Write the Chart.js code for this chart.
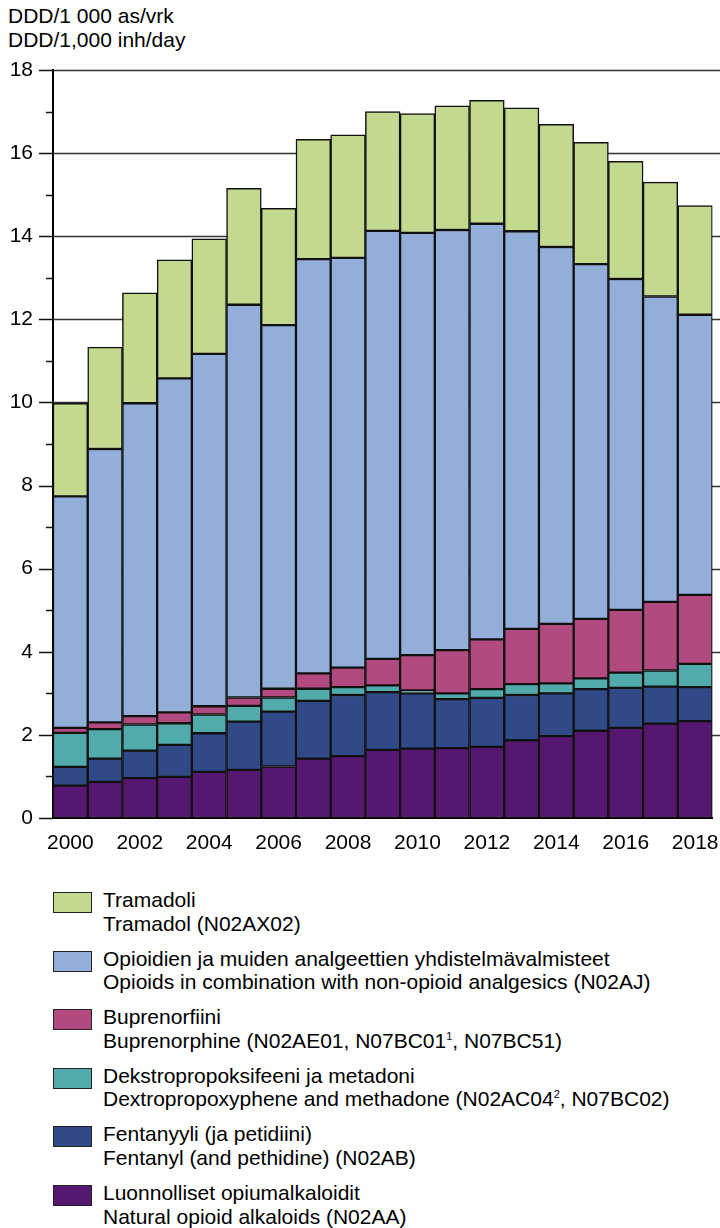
<!DOCTYPE html>
<html>
<head>
<meta charset="utf-8">
<script src="https://cdn.jsdelivr.net/npm/chart.js@4.4.1/dist/chart.umd.min.js"></script>
<style>
  html, body { margin: 0; padding: 0; background: #fff; }
  body { width: 720px; height: 1228px; position: relative; overflow: hidden;
         font-family: "Liberation Sans", Arial, sans-serif; color: #000; }
  #title { position: absolute; left: 8px; top: 4px; font-size: 21px; line-height: 24px; }
  #wrap { position: absolute; left: 0; top: 0; width: 720px; height: 880px; }
  .item { position: absolute; left: 53px; font-size: 21px; line-height: 23.5px; }
  .box { position: absolute; left: 0; top: 4px; width: 37px; height: 19px; border: 1.5px solid #222; }
  .txt { position: absolute; left: 50px; top: 0; white-space: nowrap; }
  sup { font-size: 11px; line-height: 0; vertical-align: 8px; }
</style>
</head>
<body>
<div id="title">DDD/1 000 as/vrk<br>DDD/1,000 inh/day</div>
<div id="wrap"><canvas id="c" width="720" height="880"></canvas></div>
<div id="legend"></div>
<script>
const years = ["2000","2001","2002","2003","2004","2005","2006","2007","2008","2009","2010","2011","2012","2013","2014","2015","2016","2017","2018"];
const yTicks = [0,2,4,6,8,10,12,14,16,18];

const naturalAlkaloids = [0.78,0.87,0.96,0.99,1.11,1.16,1.24,1.43,1.49,1.64,1.67,1.68,1.71,1.87,1.97,2.10,2.17,2.27,2.33];
const fentanyl         = [0.45,0.56,0.66,0.77,0.93,1.16,1.32,1.39,1.47,1.39,1.33,1.18,1.18,1.09,1.03,1.00,0.96,0.89,0.82];
const dextroMethadone  = [0.82,0.71,0.63,0.52,0.45,0.38,0.34,0.29,0.19,0.16,0.07,0.14,0.21,0.26,0.24,0.26,0.37,0.39,0.56];
const buprenorphine    = [0.12,0.16,0.20,0.26,0.20,0.20,0.21,0.37,0.47,0.64,0.85,1.04,1.20,1.33,1.43,1.43,1.51,1.65,1.66];
const combinations     = [5.57,6.58,7.53,8.04,8.48,9.45,8.75,9.97,9.86,10.30,10.16,10.11,10.00,9.57,9.07,8.54,7.96,7.35,6.74];
const tramadol         = [2.24,2.45,2.66,2.85,2.77,2.80,2.81,2.88,2.96,2.87,2.87,2.99,2.97,2.97,2.95,2.93,2.83,2.75,2.63];

const legendLabels = [
  ["Tramadoli", "Tramadol (N02AX02)"],
  ["Opioidien ja muiden analgeettien yhdistelmävalmisteet", "Opioids in combination with non-opioid analgesics (N02AJ)"],
  ["Buprenorfiini", "Buprenorphine (N02AE01, N07BC01<sup>1</sup>, N07BC51)"],
  ["Dekstropropoksifeeni ja metadoni", "Dextropropoxyphene and methadone (N02AC04<sup>2</sup>, N07BC02)"],
  ["Fentanyyli (ja petidiini)", "Fentanyl (and pethidine) (N02AB)"],
  ["Luonnolliset opiumalkaloidit", "Natural opioid alkaloids (N02AA)"]
];
const colors = {
  tramadol: "#c3d98f",
  combinations: "#92aed9",
  buprenorphine: "#b04a7f",
  dextro: "#52abab",
  fentanyl: "#304a87",
  natural: "#561770"
};

const series = [
  { label: "Luonnolliset opiumalkaloidit", data: naturalAlkaloids, backgroundColor: colors.natural },
  { label: "Fentanyyli (ja petidiini)", data: fentanyl, backgroundColor: colors.fentanyl },
  { label: "Dekstropropoksifeeni ja metadoni", data: dextroMethadone, backgroundColor: colors.dextro },
  { label: "Buprenorfiini", data: buprenorphine, backgroundColor: colors.buprenorphine },
  { label: "Opioidien ja muiden analgeettien yhdistelmävalmisteet", data: combinations, backgroundColor: colors.combinations },
  { label: "Tramadoli", data: tramadol, backgroundColor: colors.tramadol }
];

// HTML legend
const legendColors = [colors.tramadol, colors.combinations, colors.buprenorphine, colors.dextro, colors.fentanyl, colors.natural];
const lg = document.getElementById('legend');
legendLabels.forEach((l, i) => {
  const d = document.createElement('div');
  d.className = 'item';
  d.style.top = (888 + i * 58.6) + 'px';
  d.innerHTML = '<div class="box" style="background:' + legendColors[i] + '"></div><div class="txt">' + l[0] + '<br>' + l[1] + '</div>';
  lg.appendChild(d);
});

const FONT = { family: "'Liberation Sans', Arial, sans-serif", size: 21 };

const axisDecor = {
  id: 'axisDecor',
  beforeDatasetsDraw(chart) {
    const { ctx, chartArea, scales: { y } } = chart;
    ctx.save();
    ctx.strokeStyle = '#333';
    ctx.lineWidth = 1.5;
    yTicks.forEach(v => {
      if (v === 0) return;
      const py = Math.round(y.getPixelForValue(v)) + 0.5;
      ctx.beginPath();
      ctx.moveTo(chartArea.left, py);
      ctx.lineTo(720, py);
      ctx.stroke();
    });
    ctx.restore();
  },
  afterDraw(chart) {
    const { ctx, chartArea, scales: { y } } = chart;
    ctx.save();
    ctx.strokeStyle = '#111';
    ctx.lineWidth = 1.5;
    for (let v = 0; v <= 18; v++) {
      const py = Math.round(y.getPixelForValue(v)) + 0.5;
      const len = (v % 2 === 0) ? 14 : 7;
      ctx.beginPath();
      ctx.moveTo(chartArea.left - len, py);
      ctx.lineTo(chartArea.left, py);
      ctx.stroke();
    }
    ctx.restore();
  }
};

new Chart(document.getElementById('c'), {
  type: 'bar',
  data: {
    labels: years,
    datasets: series.map(s => ({
      ...s,
      borderColor: '#111',
      borderWidth: 1.5,
      borderSkipped: false,
      categoryPercentage: 1,
      barPercentage: 1
    }))
  },
  options: {
    responsive: false,
    animation: false,
    layout: { padding: { top: 70, right: 7.5, left: 0, bottom: 0 } },
    plugins: { legend: { display: false }, tooltip: { enabled: false } },
    scales: {
      x: {
        stacked: true,
        grid: { display: false, drawTicks: false },
        border: { display: true, color: '#000', width: 2 },
        ticks: {
          autoSkip: false, maxRotation: 0, color: '#000', font: FONT, padding: 13,
          callback: function (val, idx) { return idx % 2 === 0 ? years[idx] : ''; }
        },
        afterFit: s => { s.height = 62; s.paddingLeft = 0; s.paddingRight = 0; }
      },
      y: {
        stacked: true,
        min: 0, max: 18,
        grid: { display: false, drawTicks: false },
        border: { display: true, color: '#000', width: 2 },
        ticks: { stepSize: 2, color: '#000', font: FONT, padding: 20 },
        afterFit: s => { s.width = 53; s.paddingTop = 0; s.paddingBottom = 0; }
      }
    }
  },
  plugins: [axisDecor]
});
</script>
</body>
</html>
